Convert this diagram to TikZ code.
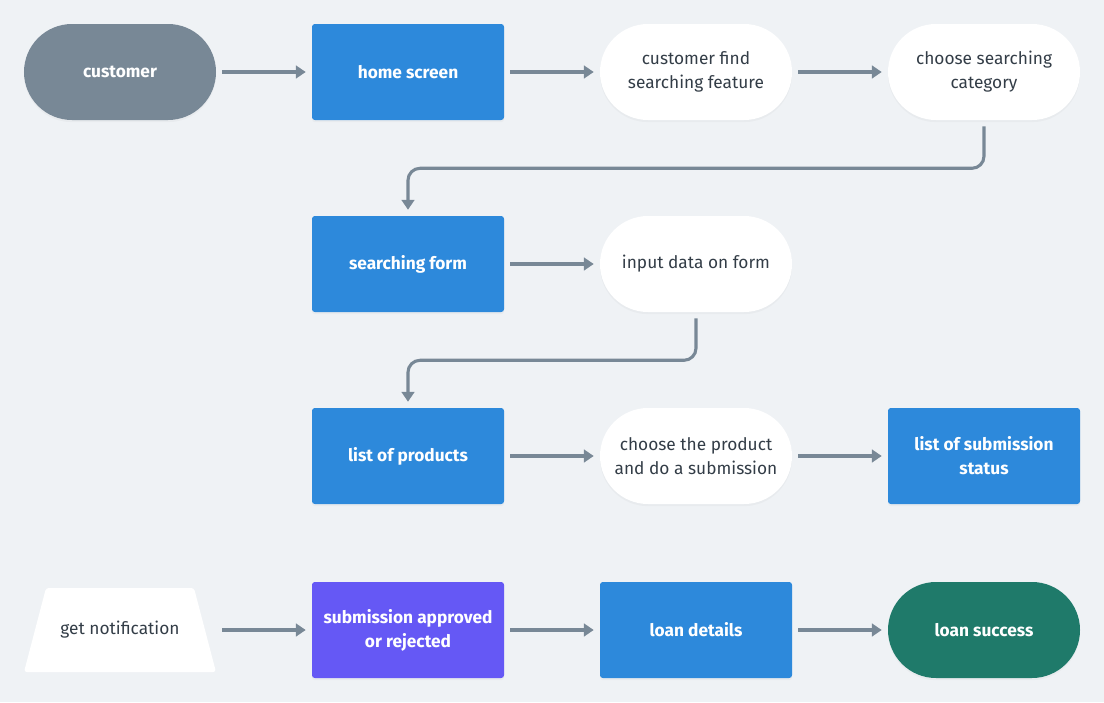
\documentclass[tikz,border=0pt]{standalone}
\usepackage{fontspec}
\setmainfont{Fira Sans}
\usepackage{tikz}
\usetikzlibrary{shadows,arrows.meta}
\definecolor{bgcol}{HTML}{EFF2F5}
\definecolor{linecol}{HTML}{788896}
\definecolor{bluecol}{HTML}{2D89DB}
\definecolor{purplecol}{HTML}{6558F5}
\definecolor{greencol}{HTML}{1F7A6A}
\definecolor{textcol}{HTML}{333D47}
\tikzstyle{arrow} = [line width=2.2pt, color=linecol, -{Triangle[length=7pt,width=9pt]}, shorten <=0.15cm, shorten >=0.15cm]
\tikzstyle{plainnode} = [rectangle, minimum width=4.8cm, minimum height=2.4cm, text centered, align=center,
font=\fontsize{12.3}{17}\selectfont]
\tikzstyle{basenode} = [plainnode, drop shadow={opacity=0.06, shadow xshift=0pt, shadow yshift=-1.5pt}]
\tikzstyle{bluebox} = [basenode, rounded corners=2pt, fill=bluecol, text=white, font=\fontsize{12.3}{17}\selectfont\bfseries]
\tikzstyle{purplebox} = [bluebox, fill=purplecol]
\tikzstyle{startnode} = [basenode, rounded corners=1.2cm, fill=linecol, text=white, font=\fontsize{12.3}{17}\selectfont\bfseries]
\tikzstyle{endnode} = [startnode, fill=greencol]
\tikzstyle{whitenode} = [basenode, rounded corners=1.2cm, fill=white, text=textcol]
\tikzstyle{notebox} = [plainnode, minimum height=2.1cm, text=textcol, path picture={
  \fill [white, rounded corners=2pt] (path picture bounding box.south west) -- (path picture bounding box.south east)
  -- ([xshift=-0.55cm]path picture bounding box.north east) -- ([xshift=0.55cm]path picture bounding box.north west) -- cycle;}]

\begin{document}
\begin{tikzpicture}[node distance=7.2cm]
      \fill [bgcol] (-3,1.8) rectangle (24.6,-15.75);
      \node (0) [startnode] {customer};
      \node (1) [bluebox, right of=0] {home screen};
      \node (2) [whitenode, right of=1] {customer find\\searching feature};
      \node (3) [whitenode, right of=2] {choose searching\\category};
      \node (4) [bluebox, below of=1, node distance=4.8cm] {searching form};
      \node (5) [whitenode, right of=4] {input data on form};
      \node (6) [bluebox, below of=4, node distance=4.8cm] {list of products};
      \node (7) [whitenode, right of=6] {choose the product\\and do a submission};
      \node (8) [bluebox, right of=7] {list of submission\\status};
      \node (9) [notebox, below of=0, node distance=13.95cm] {get notification};
      \node (10) [purplebox, right of=9] {submission approved\\or rejected};
      \node (11) [bluebox, right of=10] {loan details};
      \node (12) [endnode, right of=11] {loan success};

      \draw [arrow] (0) -- (1);
      \draw [arrow] (1) -- (2);
      \draw [arrow] (2) -- (3);
      \draw [arrow, rounded corners=0.3cm] (3.south) -- ++(0,-1.2) -| (4.north);
      \draw [arrow] (4) -- (5);
      \draw [arrow, rounded corners=0.3cm] (5.south) -- ++(0,-1.2) -| (6.north);
      \draw [arrow] (6) -- (7);
      \draw [arrow] (7) -- (8);
      \draw [arrow] (9) -- (10);
      \draw [arrow] (10) -- (11);
      \draw [arrow] (11) -- (12);
    \end{tikzpicture}
\end{document}
